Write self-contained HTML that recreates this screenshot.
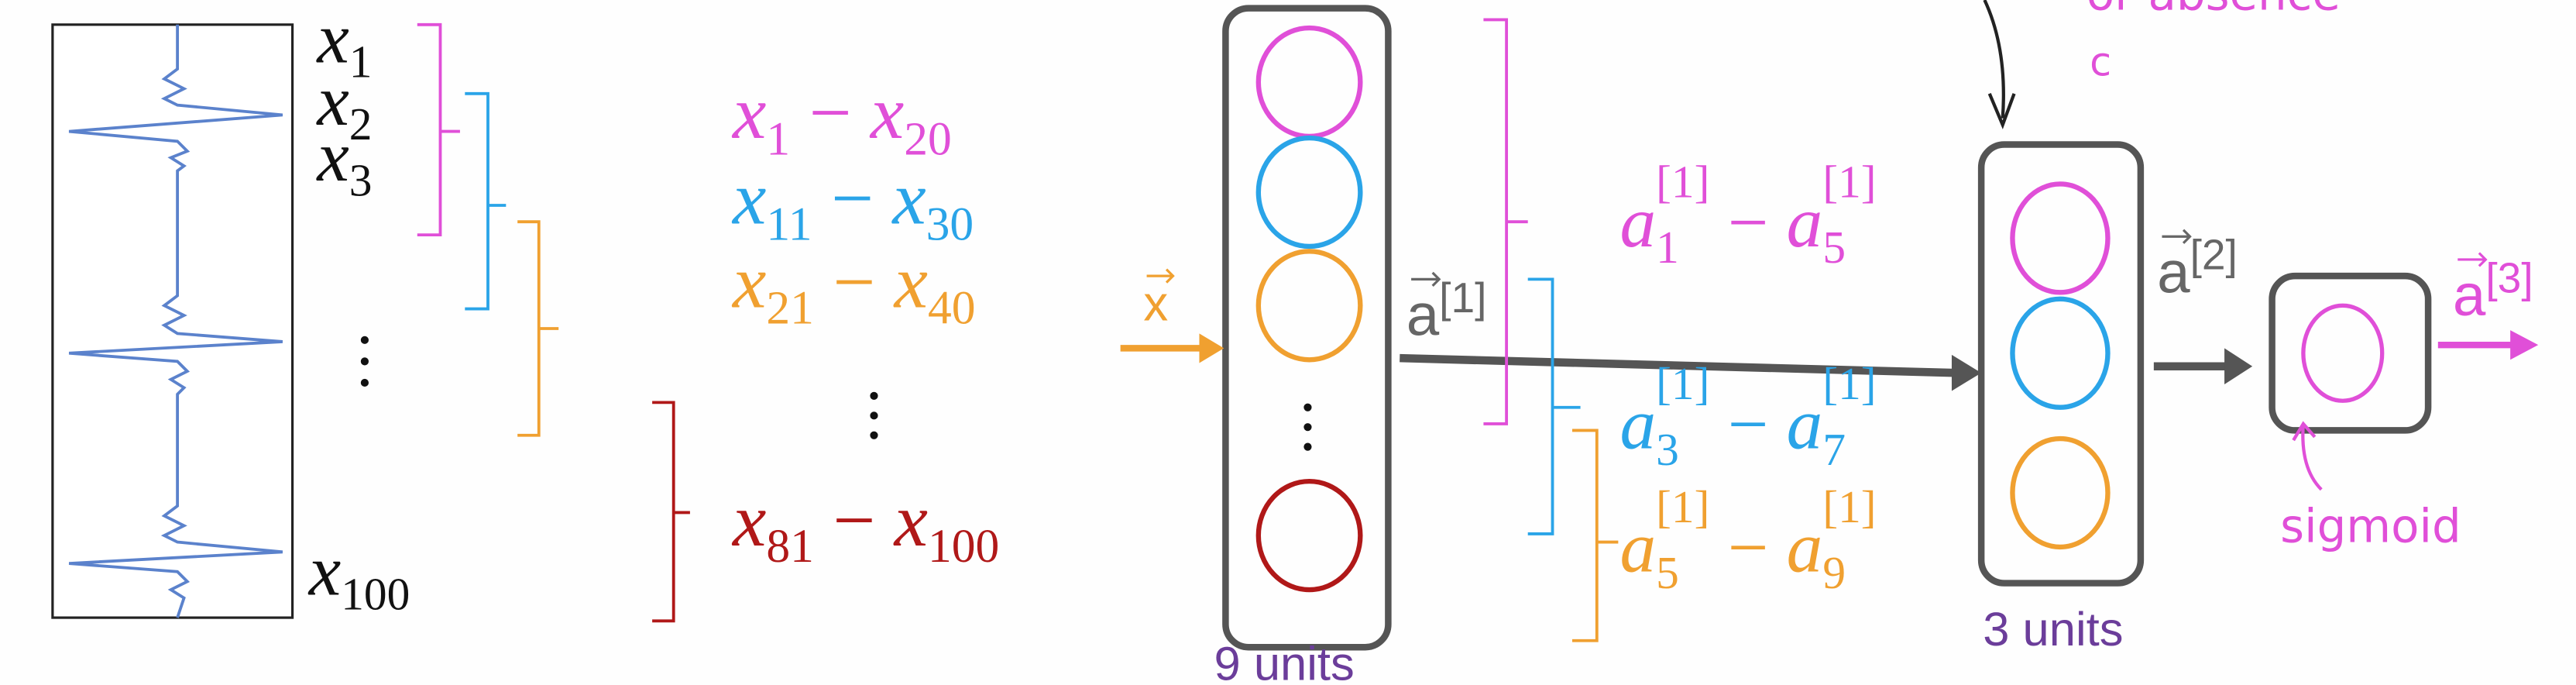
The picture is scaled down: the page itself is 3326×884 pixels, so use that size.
<!DOCTYPE html>
<html><head><meta charset="utf-8"><style>
html,body{margin:0;padding:0;background:#fefefe;}
svg{display:block;}
.m{font-family:"Liberation Serif",serif;font-style:italic;}
.s{font-family:"Liberation Sans",sans-serif;}
</style></head><body>
<svg width="3326" height="884" viewBox="0 0 1568 417" preserveAspectRatio="none" xmlns="http://www.w3.org/2000/svg">
<rect width="1568" height="417" fill="#fefefe"/>
<!-- waveform -->
<rect x="32" y="15" width="146" height="361" fill="#fff" stroke="#222" stroke-width="1.5"/>
<path d="M108 15 V42 L100 48 L112 54 L100 60 L108 64 L172 70 L42 80 L108 86 L114 92 L104 96 L112 101 L108 104 V180 L100 186 L112 192 L100 198 L108 203 L172 208 L42 215 L108 220 L114 226 L104 231 L112 236 L108 240 V308 L100 314 L112 320 L100 326 L108 330 L172 336 L42 343 L108 348 L114 354 L104 359 L112 364 L108 376" fill="none" stroke="#5b82cc" stroke-width="1.8"/>
<g class="m" font-size="44" fill="#111">
<text x="193" y="38">x<tspan font-size="28" font-style="normal" dy="9">1</tspan></text>
<text x="193" y="76">x<tspan font-size="28" font-style="normal" dy="9">2</tspan></text>
<text x="193" y="110">x<tspan font-size="28" font-style="normal" dy="9">3</tspan></text>
<text x="188" y="362">x<tspan font-size="28" font-style="normal" dy="9">100</tspan></text>
</g>
<g fill="#111"><circle cx="222" cy="207" r="2.4"/><circle cx="222" cy="220" r="2.4"/><circle cx="222" cy="233" r="2.4"/>
<circle cx="532" cy="241" r="2.4"/><circle cx="532" cy="253" r="2.4"/><circle cx="532" cy="265" r="2.4"/>
<circle cx="796" cy="248" r="2.4"/><circle cx="796" cy="260" r="2.4"/><circle cx="796" cy="272" r="2.4"/></g>
<!-- left brackets -->
<g fill="none" stroke-width="1.8">
<path d="M254 15 H268 V80 H280 M268 80 V143 H254" stroke="#e04fd8"/>
<path d="M283 57 H297 V125 H308 M297 125 V188 H283" stroke="#2aa4e8"/>
<path d="M315 135 H328 V200 H340 M328 200 V265 H315" stroke="#f0a030"/>
<path d="M397 245 H410 V312 H420 M410 312 V378 H397" stroke="#b01818"/>
</g>
<g class="m" font-size="46">
<text x="446" y="84" fill="#e04fd8">x<tspan font-size="29" font-style="normal" dy="10">1</tspan><tspan dy="-10" font-style="normal"> − </tspan>x<tspan font-size="29" font-style="normal" dy="10">20</tspan></text>
<text x="446" y="136" fill="#2aa4e8">x<tspan font-size="29" font-style="normal" dy="10">11</tspan><tspan dy="-10" font-style="normal"> − </tspan>x<tspan font-size="29" font-style="normal" dy="10">30</tspan></text>
<text x="446" y="187" fill="#f0a030">x<tspan font-size="29" font-style="normal" dy="10">21</tspan><tspan dy="-10" font-style="normal"> − </tspan>x<tspan font-size="29" font-style="normal" dy="10">40</tspan></text>
<text x="446" y="332" fill="#b01818">x<tspan font-size="29" font-style="normal" dy="10">81</tspan><tspan dy="-10" font-style="normal"> − </tspan>x<tspan font-size="29" font-style="normal" dy="10">100</tspan></text>
</g>
<!-- layer 1 -->
<rect x="746" y="5" width="99" height="389" rx="14" fill="none" stroke="#555" stroke-width="4"/>
<g fill="none" stroke-width="3">
<ellipse cx="797" cy="50" rx="31" ry="33" stroke="#e04fd8"/>
<ellipse cx="797" cy="117" rx="31" ry="33" stroke="#2aa4e8"/>
<ellipse cx="797" cy="186" rx="31" ry="33" stroke="#f0a030"/>
<ellipse cx="797" cy="326" rx="31" ry="33" stroke="#b01818"/>
</g>
<text class="s" x="739" y="414" font-size="29" fill="#6b3d9a">9 units</text>
<!-- x input -->
<path d="M682 212 H732" stroke="#f0a030" stroke-width="4"/>
<path d="M730 203 L745 212 L730 221 Z" fill="#f0a030"/>
<text class="s" x="696" y="195" font-size="30" fill="#f0a030">x</text>
<path d="M698 168 H714 M710 164 L714 168 L710 172" stroke="#f0a030" fill="none" stroke-width="1.5"/>
<!-- a1 arrow -->
<path d="M852 218 L1190 227" stroke="#555" stroke-width="5"/>
<path d="M1188 216 L1206 227 L1188 238 Z" fill="#555"/>
<text class="s" x="856" y="204" font-size="36" fill="#666">a<tspan font-size="26" dy="-14">[1]</tspan></text>
<path d="M859 170 H876 M872 166 L876 170 L872 174" stroke="#666" fill="none" stroke-width="1.5"/>
<!-- right brackets -->
<g fill="none" stroke-width="1.8">
<path d="M903 12 H917 V135 H930 M917 135 V258 H903" stroke="#e04fd8"/>
<path d="M930 170 H945 V248 H962 M945 248 V325 H930" stroke="#2aa4e8"/>
<path d="M957 262 H972 V330 H985 M972 330 V390 H957" stroke="#f0a030"/>
</g>
<g class="m" font-size="44">
<text x="986" y="150" fill="#e04fd8">a<tspan font-size="28" font-style="normal" dy="10">1</tspan><tspan font-size="28" font-style="normal" dx="-14" dy="-40">[1]</tspan><tspan font-style="normal" dy="30"> − </tspan>a<tspan font-size="28" font-style="normal" dy="10">5</tspan><tspan font-size="28" font-style="normal" dx="-14" dy="-40">[1]</tspan></text>
<text x="986" y="273" fill="#2aa4e8">a<tspan font-size="28" font-style="normal" dy="10">3</tspan><tspan font-size="28" font-style="normal" dx="-14" dy="-40">[1]</tspan><tspan font-style="normal" dy="30"> − </tspan>a<tspan font-size="28" font-style="normal" dy="10">7</tspan><tspan font-size="28" font-style="normal" dx="-14" dy="-40">[1]</tspan></text>
<text x="986" y="348" fill="#f0a030">a<tspan font-size="28" font-style="normal" dy="10">5</tspan><tspan font-size="28" font-style="normal" dx="-14" dy="-40">[1]</tspan><tspan font-style="normal" dy="30"> − </tspan>a<tspan font-size="28" font-style="normal" dy="10">9</tspan><tspan font-size="28" font-style="normal" dx="-14" dy="-40">[1]</tspan></text>
</g>
<!-- layer 2 -->
<rect x="1206" y="88" width="97" height="267" rx="14" fill="none" stroke="#555" stroke-width="4"/>
<g fill="none" stroke-width="3">
<ellipse cx="1254" cy="145" rx="29" ry="33" stroke="#e04fd8"/>
<ellipse cx="1254" cy="215" rx="29" ry="33" stroke="#2aa4e8"/>
<ellipse cx="1254" cy="300" rx="29" ry="33" stroke="#f0a030"/>
</g>
<text class="s" x="1207" y="393" font-size="29" fill="#6b3d9a">3 units</text>
<!-- top black arrow -->
<path d="M1208 0 Q1222 30 1219 72" stroke="#222" stroke-width="2" fill="none"/>
<path d="M1211 57 L1219 76 L1226 57" stroke="#222" stroke-width="2" fill="none"/>
<text x="1270" y="6" font-family="'DejaVu Sans',sans-serif" font-size="28" fill="#e04fd8">or absence</text>
<text x="1272" y="46" font-family="'DejaVu Sans',sans-serif" font-size="24" fill="#e04fd8">c</text>
<!-- a2 -->
<path d="M1311 223 H1356" stroke="#555" stroke-width="5"/>
<path d="M1354 212 L1371 223 L1354 234 Z" fill="#555"/>
<text class="s" x="1313" y="178" font-size="36" fill="#666">a<tspan font-size="26" dy="-14">[2]</tspan></text>
<path d="M1316 144 H1333 M1329 140 L1333 144 L1329 148" stroke="#666" fill="none" stroke-width="1.5"/>
<!-- layer 3 -->
<rect x="1383" y="168" width="95" height="94" rx="14" fill="none" stroke="#555" stroke-width="4"/>
<ellipse cx="1426" cy="215" rx="24" ry="29" fill="none" stroke="#e04fd8" stroke-width="2.5"/>
<path d="M1484 210 H1530" stroke="#e04fd8" stroke-width="4"/>
<path d="M1528 201 L1545 210 L1528 219 Z" fill="#e04fd8"/>
<text class="s" x="1493" y="192" font-size="36" fill="#e04fd8">a<tspan font-size="26" dy="-14">[3]</tspan></text>
<path d="M1496 158 H1513 M1509 154 L1513 158 L1509 162" stroke="#e04fd8" fill="none" stroke-width="1.5"/>
<!-- sigmoid -->
<path d="M1413 298 Q1400 285 1402 258 M1396 268 L1402 258 L1409 266" stroke="#e04fd8" stroke-width="2" fill="none"/>
<text x="1388" y="330" font-family="'DejaVu Sans',sans-serif" font-size="28" fill="#e04fd8">sigmoid</text>
</svg>
</body></html>
